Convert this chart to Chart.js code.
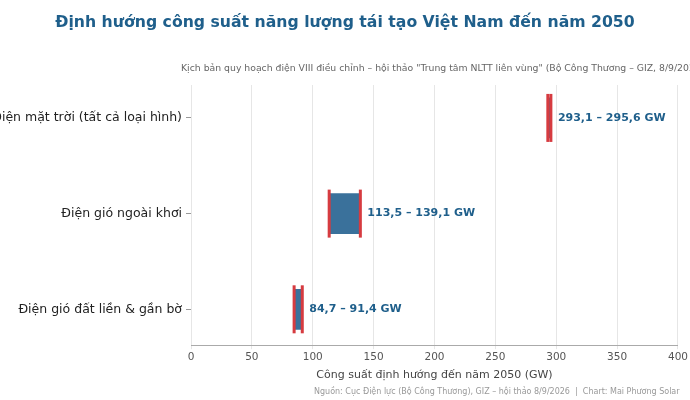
<!DOCTYPE html>
<html><head><meta charset="utf-8">
<script src="https://cdn.jsdelivr.net/npm/chart.js@4"></script>
<style>html,body{margin:0;padding:0;background:#fff}</style>
</head><body><canvas id="c" width="690" height="400" style="width:690px;height:400px"></canvas>
<script>
const categories = ["Điện mặt trời (tất cả loại hình)", "Điện gió ngoài khơi", "Điện gió đất liền & gần bờ"];
const lowValues = [293.1, 113.5, 84.7];
const highValues = [295.6, 139.1, 91.4];
const rangeLabels = ["293,1 – 295,6 GW", "113,5 – 139,1 GW", "84,7 – 91,4 GW"];
const F = "DejaVu Sans";

const extras = {
  id: 'extras',
  afterDatasetsDraw(chart) {
    const ctx = chart.ctx, x = chart.scales.x, y = chart.scales.y;
    ctx.save();
    categories.forEach((c, i) => {
      const yc = y.getPixelForValue(i);
      ctx.fillStyle = '#d63b40';
      [lowValues[i], highValues[i]].forEach(v => {
        const px = x.getPixelForValue(v);
        ctx.fillRect(px - 1.5, yc - 24, 3, 48);
      });
      ctx.fillStyle = '#1f5f8b';
      ctx.font = 'bold 11px ' + F;
      ctx.textAlign = 'left'; ctx.textBaseline = 'middle';
      ctx.fillText(rangeLabels[i], x.getPixelForValue(highValues[i]) + 7, yc);
    });
    ctx.textAlign = 'center'; ctx.textBaseline = 'middle';
    ctx.fillStyle = '#1f5f8b'; ctx.font = 'bold 15.7px ' + F;
    ctx.fillText('Định hướng công suất năng lượng tái tạo Việt Nam đến năm 2050', 345, 23);
    ctx.fillStyle = '#666'; ctx.font = '9.3px ' + F;
    ctx.textAlign = 'left';
    ctx.fillText('Kịch bản quy hoạch điện VIII điều chỉnh – hội thảo "Trung tâm NLTT liên vùng" (Bộ Công Thương – GIZ, 8/9/2026)', 181, 69);
    ctx.fillStyle = '#999'; ctx.font = '8px ' + F;
    ctx.fillText('Nguồn: Cục Điện lực (Bộ Công Thương), GIZ – hội thảo 8/9/2026  |  Chart: Mai Phương Solar', 314, 392);
    ctx.restore();
  }
};

new Chart(document.getElementById('c'), {
  type: 'bar',
  data: { datasets: [{
    data: categories.map((c, i) => ({ x: [lowValues[i], highValues[i]], y: i })),
    backgroundColor: '#3a719b', barThickness: 40, borderSkipped: false
  }]},
  options: {
    indexAxis: 'y', responsive: false, animation: false, devicePixelRatio: 1,
    layout: { padding: { top: 85, bottom: 18, right: 3, left: 0 } },
    plugins: { legend: { display: false }, tooltip: { enabled: false } },
    scales: {
      x: {
        type: 'linear', min: 0, max: 400,
        ticks: { stepSize: 50, color: '#555', font: { family: F, size: 10.5 }, padding: 2 },
        grid: { color: '#e6e6e6', tickLength: 4 }, border: { color: '#aaa' },
        title: { display: true, text: 'Công suất định hướng đến năm 2050 (GW)', color: '#444', font: { family: F, size: 11 }, padding: { top: 3, bottom: 0 } }
      },
      y: {
        type: 'linear', reverse: true, min: -0.344, max: 2.375, offset: false, grace: 0,
        afterFit: s => { s.width = 191; },
        ticks: { stepSize: 1, includeBounds: false, callback: v => categories[v], color: '#222', font: { family: F, size: 12.5 }, padding: 4 },
        grid: { drawOnChartArea: false, tickLength: 5, color: '#999', offset: false },
        border: { display: false }
      }
    }
  },
  plugins: [extras]
});
</script></body></html>
